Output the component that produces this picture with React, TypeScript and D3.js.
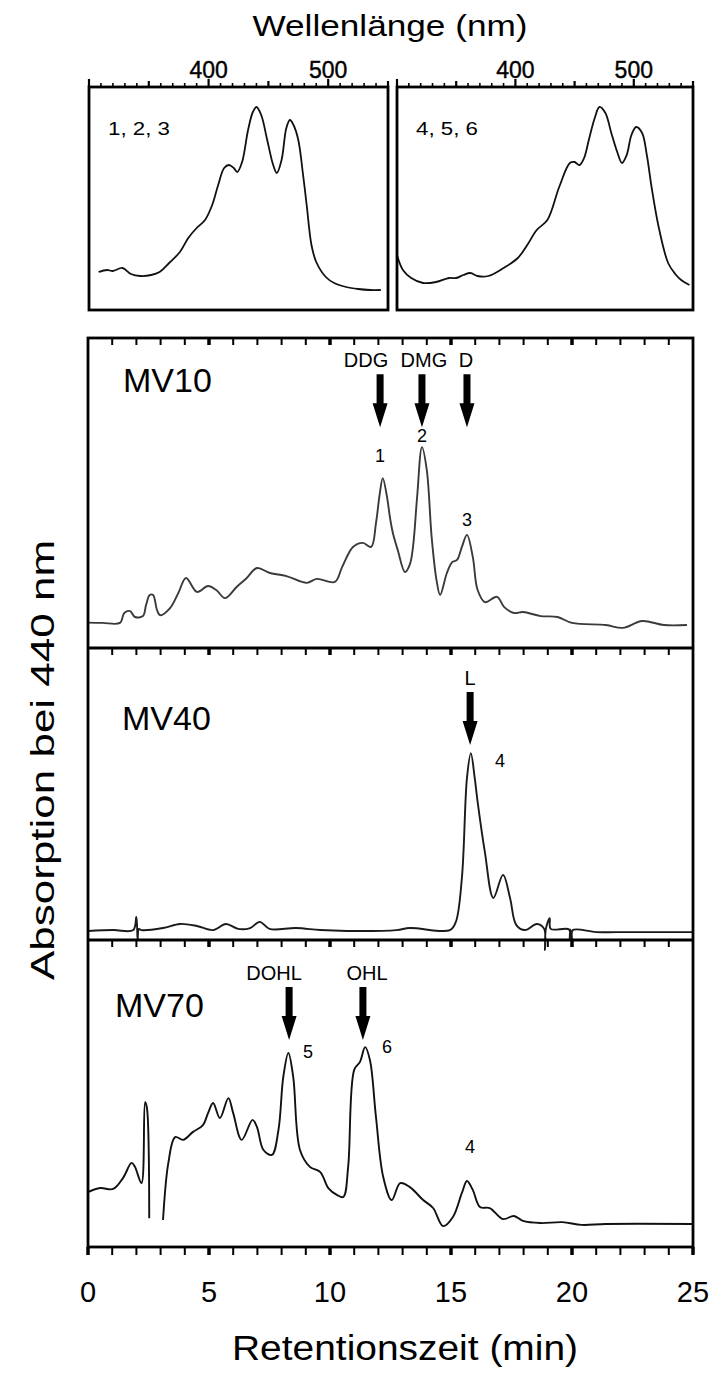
import React, { useEffect } from 'react';
import * as d3 from 'd3';

const W = 711;
const H = 1383;
const FONT = "'Liberation Sans', Arial, Helvetica, sans-serif";

// Absorptionsspektren (Wellenlänge nm, rel. Absorption)
const spectrum123: [number, number][] = [
  [308, 0.19], [315, 0.2], [320, 0.195], [328, 0.21], [335, 0.18], [343, 0.17],
  [352, 0.175], [359, 0.19], [367, 0.235], [376, 0.29], [383, 0.36], [390, 0.41],
  [397, 0.45], [403, 0.525], [408, 0.625], [413, 0.71], [417, 0.725], [421, 0.71],
  [424, 0.69], [428, 0.74], [433, 0.9], [437, 0.99], [440, 1.015], [444, 0.975],
  [449, 0.85], [454, 0.725], [457, 0.685], [461, 0.75], [465, 0.91], [468, 0.95],
  [471, 0.925], [475, 0.85], [479, 0.675], [482, 0.525], [486, 0.325], [490, 0.24],
  [498, 0.165], [505, 0.135], [515, 0.115], [525, 0.105], [535, 0.1], [544, 0.1],
];
const spectrum456: [number, number][] = [
  [300, 0.275], [305, 0.2], [312, 0.16], [322, 0.135], [333, 0.14], [344, 0.16],
  [350, 0.16], [356, 0.175], [362, 0.185], [368, 0.17], [377, 0.17], [390, 0.21],
  [402, 0.26], [410, 0.325], [418, 0.4], [427, 0.45], [437, 0.615], [446, 0.735],
  [450, 0.74], [454, 0.725], [458, 0.76], [462, 0.85], [467, 0.96], [471, 1.015],
  [476, 0.985], [481, 0.885], [486, 0.79], [490, 0.735], [494, 0.775], [498, 0.875],
  [502, 0.915], [507, 0.885], [511, 0.775], [515, 0.615], [521, 0.415], [529, 0.235],
  [535, 0.18], [540, 0.15], [547, 0.125],
];

// Chromatogramme (Retentionszeit min, rel. Absorption bei 440 nm)
const mv10: [number, number][] = [
  [0, 0.082], [0.6, 0.081], [1.32, 0.081], [1.5, 0.113], [1.74, 0.119], [1.94, 0.1],
  [2.27, 0.103], [2.4, 0.139], [2.55, 0.171], [2.69, 0.171], [2.85, 0.123], [2.98, 0.106],
  [3.39, 0.129], [3.73, 0.177], [4.05, 0.226], [4.5, 0.181], [4.96, 0.2], [5.3, 0.187],
  [5.66, 0.161], [6.14, 0.197], [6.56, 0.226], [6.98, 0.258], [7.52, 0.242], [8.2, 0.232],
  [9.04, 0.21], [9.45, 0.223], [10.2, 0.213], [10.5, 0.261], [10.95, 0.326], [11.36, 0.339],
  [11.7, 0.326], [11.9, 0.403], [12.05, 0.494], [12.18, 0.548], [12.35, 0.49], [12.48, 0.42],
  [12.6, 0.37], [12.8, 0.316], [13.1, 0.245], [13.3, 0.27], [13.43, 0.326], [13.6, 0.487],
  [13.8, 0.648], [14.0, 0.574], [14.2, 0.358], [14.4, 0.22], [14.55, 0.171], [14.83, 0.242],
  [15.05, 0.277], [15.25, 0.284], [15.45, 0.326], [15.66, 0.365], [15.9, 0.294], [16.1, 0.187],
  [16.4, 0.148], [16.9, 0.165], [17.2, 0.132], [17.6, 0.113], [17.98, 0.116], [18.7, 0.103],
  [19.4, 0.1], [20.0, 0.081], [21.4, 0.074], [22.1, 0.065], [22.9, 0.087], [23.8, 0.074],
  [24.75, 0.074],
];
const mv40: [number, number][] = [
  [0, 0.031], [1.04, 0.034], [1.87, 0.034], [2.0, 0.079], [2.05, 0.0], [2.1, 0.038],
  [2.2, 0.034], [3.1, 0.041], [3.8, 0.055], [4.5, 0.048], [5.17, 0.034], [5.7, 0.055],
  [6.2, 0.038], [6.7, 0.041], [7.1, 0.062], [7.5, 0.038], [8.6, 0.041], [9.6, 0.034],
  [10.7, 0.031], [12.75, 0.034], [13.3, 0.041], [14.96, 0.034], [15.2, 0.062], [15.45, 0.212],
  [15.66, 0.555], [15.82, 0.64], [15.98, 0.555], [16.1, 0.473], [16.4, 0.301], [16.75, 0.144],
  [17.15, 0.223], [17.44, 0.144], [17.7, 0.051], [18.06, 0.034], [18.55, 0.055], [18.85, 0.038],
  [18.88, -0.034], [18.92, 0.038], [19.08, 0.075], [19.12, 0.038], [19.88, 0.036], [19.9, 0.0],
  [19.93, 0.036], [20.0, 0.0], [20.03, 0.034], [21.0, 0.027], [21.85, 0.027], [25, 0.027],
];
const mv70: [number, number | null][] = [
  [0, 0.179], [0.5, 0.192], [1.04, 0.189], [1.45, 0.225], [1.8, 0.274], [1.94, 0.261],
  [2.21, 0.208], [2.36, 0.472], [2.43, 0.456], [2.53, 0.094], [2.8, null], [3.1, 0.088],
  [3.32, 0.274], [3.6, 0.358], [3.93, 0.349], [4.34, 0.375], [4.75, 0.397], [4.96, 0.436],
  [5.17, 0.469], [5.45, 0.42], [5.8, 0.485], [6.0, 0.436], [6.35, 0.349], [6.8, 0.414],
  [6.98, 0.391], [7.25, 0.316], [7.6, 0.3], [7.87, 0.381], [8.07, 0.554], [8.28, 0.632],
  [8.48, 0.554], [8.76, 0.316], [9.17, 0.261], [9.6, 0.244], [9.93, 0.192], [10.3, 0.169],
  [10.55, 0.163], [10.75, 0.261], [11.0, 0.577], [11.24, 0.603], [11.45, 0.651], [11.65, 0.609],
  [11.9, 0.423], [12.2, 0.228], [12.55, 0.153], [12.9, 0.208], [13.3, 0.195], [13.85, 0.153],
  [14.26, 0.127], [14.67, 0.068], [15.08, 0.098], [15.45, 0.176], [15.66, 0.215], [15.9, 0.186],
  [16.2, 0.13], [16.6, 0.127], [17.15, 0.091], [17.6, 0.101], [17.97, 0.085], [18.7, 0.078],
  [19.6, 0.081], [20.4, 0.072], [21.4, 0.075], [25, 0.075],
];

const wlLabels = [400, 500];
const rtLabels = [0, 5, 10, 15, 20, 25];

// Standards: Name, Textposition (min), Pfeilposition (min), Höhe der Beschriftung
const mv10Standards = [
  { name: 'DDG', t: 11.49, arrow: 12.07, v: 0.906 },
  { name: 'DMG', t: 13.88, arrow: 13.8, v: 0.906 },
  { name: 'D', t: 15.62, arrow: 15.66, v: 0.906 },
];
const mv40Standards = [{ name: 'L', t: 15.79, arrow: 15.79, v: 0.873 }];
const mv70Standards = [
  { name: 'DOHL', t: 7.69, arrow: 8.31, v: 0.87 },
  { name: 'OHL', t: 11.53, arrow: 11.36, v: 0.87 },
];

// Peaknummern: Nummer, Retentionszeit, Höhe
const mv10Peaks = [
  { n: '1', t: 12.07, v: 0.6 },
  { n: '2', t: 13.8, v: 0.665 },
  { n: '3', t: 15.66, v: 0.394 },
];
const mv40Peaks = [{ n: '4', t: 17.02, v: 0.592 }];
const mv70Peaks = [
  { n: '5', t: 9.09, v: 0.616 },
  { n: '6', t: 12.36, v: 0.632 },
  { n: '4', t: 15.79, v: 0.306 },
];

const x = d3.scaleLinear().domain([0, 25]).range([88, 693]);

const arrowPath = (cx: number, y0: number, y1: number) => {
  const s = 3.5, h = 7.5, hl = 24;
  return `M${cx - s},${y0}L${cx + s},${y0}L${cx + s},${y1 - hl}L${cx + h},${y1 - hl}L${cx},${y1}L${cx - h},${y1 - hl}L${cx - s},${y1 - hl}Z`;
};

const Spectrum = ({ left, right, data, label }: any) => {
  const top = 87, bottom = 310;
  const xs = d3.scaleLinear().domain([300, 550]).range([left, right]);
  const ys = d3.scaleLinear().domain([0, 1.115]).range([bottom, top]);
  const line = d3.line<[number, number]>().x(d => xs(d[0])).y(d => ys(d[1])).curve(d3.curveCatmullRom.alpha(0.5));
  const ticks = d3.range(300, 551, 10);
  return (
    <g>
      {ticks.map(t => {
        const len = t % 100 === 0 ? 8 : t % 50 === 0 ? 6 : 4;
        return <line key={t} x1={xs(t)} x2={xs(t)} y1={top} y2={top - len} stroke="#000" strokeWidth={t % 50 === 0 ? 2.2 : 1.6} />;
      })}
      {wlLabels.map(t => (
        <text key={t} x={xs(t)} y={78} textAnchor="middle" fontSize={23} fontFamily={FONT} stroke="#000" strokeWidth={0.4}>{t}</text>
      ))}
      <path d={line(data) || ''} fill="none" stroke="#111" strokeWidth={1.8} />
      <rect x={left} y={top} width={right - left} height={bottom - top} fill="none" stroke="#000" strokeWidth={2.8} />
      <text x={left + 19} y={135} fontSize={18} fontFamily={FONT} textLength={62} lengthAdjust="spacingAndGlyphs">{label}</text>
    </g>
  );
};

const Chromatogram = ({ top, bottom, data, name, nameX, nameY, standards, peaks, color, bottomTicks }: any) => {
  const y = d3.scaleLinear().domain([0, 1]).range([bottom, top]);
  const line = d3.line<[number, number | null]>()
    .defined(d => d[1] !== null)
    .x(d => x(d[0]))
    .y(d => y(d[1] as number))
    .curve(d3.curveCatmullRom.alpha(0.5));
  const ticks = d3.range(1, 25);
  return (
    <g>
      {ticks.map(t => (
        <line key={t} x1={x(t)} x2={x(t)} y1={top} y2={top + 7} stroke="#000" strokeWidth={t % 5 === 0 ? 3.5 : 2} />
      ))}
      {bottomTicks && d3.range(0, 26).map(t => (
        <line key={'b' + t} x1={x(t)} x2={x(t)} y1={bottom} y2={bottom + 8} stroke="#000" strokeWidth={t % 5 === 0 ? 3.5 : 2} />
      ))}
      <path d={line(data) || ''} fill="none" stroke={color} strokeWidth={1.9} strokeLinejoin="round" />
      <text x={nameX} y={nameY} fontSize={34} fontFamily={FONT}>{name}</text>
      {standards.map((s: any) => {
        const by = y(s.v);
        return (
          <g key={s.name}>
            <text x={x(s.t)} y={by} textAnchor="middle" fontSize={20} fontFamily={FONT}>{s.name}</text>
            <path d={arrowPath(x(s.arrow), by + 7, by + 60)} fill="#000" />
          </g>
        );
      })}
      {peaks.map((p: any, i: number) => (
        <text key={i} x={x(p.t)} y={y(p.v)} textAnchor="middle" fontSize={18} fontFamily={FONT}>{p.n}</text>
      ))}
    </g>
  );
};

export default function App() {
  useEffect(() => {
    document.body.style.margin = '0';
  }, []);
  return (
    <svg width={W} height={H} style={{ display: 'block', background: '#fff' }}>
      <rect width={W} height={H} fill="#fff" />
      <text x={390} y={36} textAnchor="middle" fontSize={30} fontFamily={FONT} textLength={275} lengthAdjust="spacingAndGlyphs">Wellenlänge (nm)</text>
      <Spectrum left={89} right={388} data={spectrum123} label="1, 2, 3" />
      <Spectrum left={397} right={693} data={spectrum456} label="4, 5, 6" />

      <Chromatogram top={338} bottom={648} data={mv10} name="MV10" nameX={123} nameY={392}
        standards={mv10Standards} peaks={mv10Peaks} color="#3a3a3a" />
      <Chromatogram top={648} bottom={940} data={mv40} name="MV40" nameX={122} nameY={730}
        standards={mv40Standards} peaks={mv40Peaks} color="#1a1a1a" />
      <Chromatogram top={940} bottom={1247} data={mv70} name="MV70" nameX={115} nameY={1017}
        standards={mv70Standards} peaks={mv70Peaks} color="#111" bottomTicks />

      <rect x={88} y={338} width={605} height={909} fill="none" stroke="#000" strokeWidth={2.8} />
      <line x1={88} x2={693} y1={648} y2={648} stroke="#000" strokeWidth={2.8} />
      <line x1={88} x2={693} y1={940} y2={940} stroke="#000" strokeWidth={2.8} />

      {rtLabels.map(t => (
        <text key={t} x={x(t)} y={1302} textAnchor="middle" fontSize={29} fontFamily={FONT}>{t}</text>
      ))}
      <text x={405} y={1360} textAnchor="middle" fontSize={35} fontFamily={FONT} textLength={346} lengthAdjust="spacingAndGlyphs">Retentionszeit (min)</text>
      <text transform="translate(54,760) rotate(-90)" textAnchor="middle" fontSize={33} fontFamily={FONT} textLength={440} lengthAdjust="spacingAndGlyphs">Absorption bei 440 nm</text>
    </svg>
  );
}
